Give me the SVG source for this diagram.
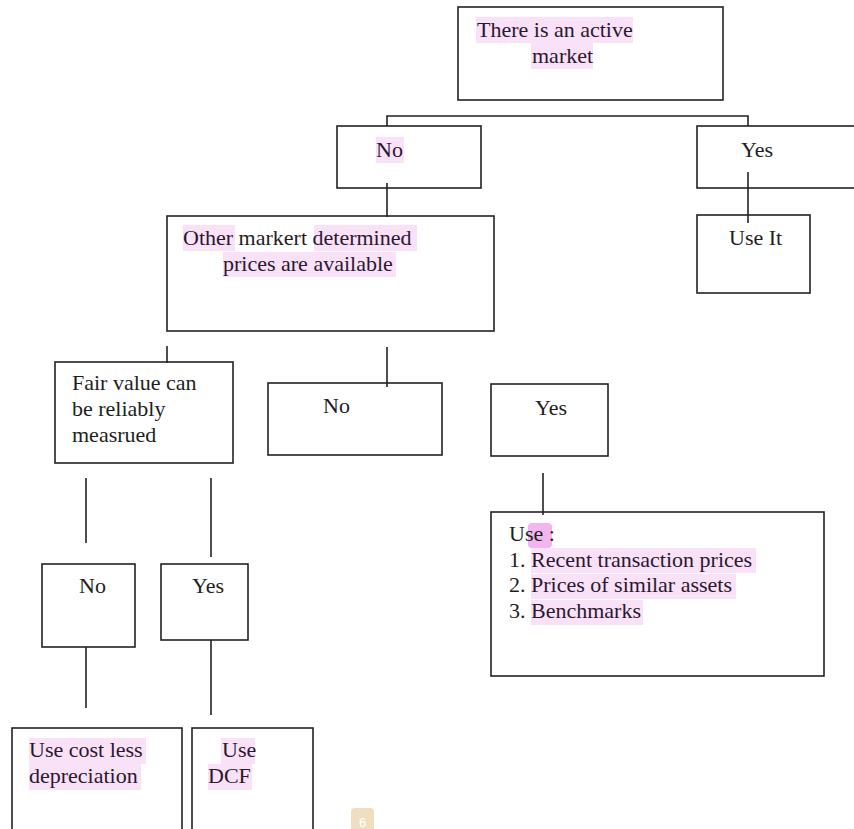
<svg xmlns="http://www.w3.org/2000/svg" width="854" height="829" viewBox="0 0 854 829">
<style>
.box{fill:none;stroke:#222;stroke-width:1.6}
.ln{fill:none;stroke:#222;stroke-width:1.6}
.hl{fill:#f9e1f7}
.hl2{fill:#f2b5ef}
text{font-family:"Liberation Serif","Times New Roman",serif;font-size:22px;fill:#1e1e1e}
.ht{fill:#2a1830}
</style>
<rect width="854" height="829" fill="#fff"/>
<g id="connectors">
<polyline class="ln" points="387,126 387,116 748,116 748,126"/>
<line class="ln" x1="748" y1="172" x2="748" y2="223"/>
<line class="ln" x1="387" y1="183" x2="387" y2="217"/>
<line class="ln" x1="167" y1="346" x2="167" y2="363"/>
<line class="ln" x1="387" y1="347" x2="387" y2="387"/>
<line class="ln" x1="543" y1="473" x2="543" y2="515"/>
<line class="ln" x1="86" y1="478" x2="86" y2="543"/>
<line class="ln" x1="211" y1="478" x2="211" y2="557"/>
<line class="ln" x1="86" y1="647" x2="86" y2="708"/>
<line class="ln" x1="211" y1="640" x2="211" y2="715"/>
</g>
<g id="n-active">
<rect class="box" x="458" y="7" width="265" height="93"/>
<rect class="hl" x="476" y="17" width="157" height="26"/>
<rect class="hl" x="531" y="43" width="62" height="26"/>
<text class="ht" x="477" y="37">There is an active</text>
<text class="ht" x="532" y="63">market</text>
</g>
<g id="n-no1">
<rect class="box" x="337" y="126" width="144" height="62"/>
<rect class="hl" x="376" y="137" width="28" height="26"/>
<text class="ht" x="376" y="157">No</text>
</g>
<g id="n-yes1">
<rect class="box" x="697" y="126" width="160" height="62"/>
<text x="741" y="157">Yes</text>
</g>
<g id="n-useit">
<rect class="box" x="697" y="215" width="113" height="78"/>
<text x="729" y="245">Use It</text>
</g>
<g id="n-other">
<rect class="box" x="167" y="216" width="327" height="115"/>
<rect class="hl" x="183" y="225" width="52" height="26"/>
<rect class="hl" x="314" y="225" width="103" height="26"/>
<rect class="hl" x="223" y="252" width="173" height="25"/>
<text x="183" y="245"><tspan class="ht">Other</tspan> markert <tspan class="ht">determined</tspan></text>
<text class="ht" x="223" y="271">prices are available</text>
</g>
<g id="n-fair">
<rect class="box" x="55" y="362" width="178" height="101"/>
<text x="72" y="390">Fair value can</text>
<text x="72" y="416">be reliably</text>
<text x="72" y="442">measrued</text>
</g>
<g id="n-no2">
<rect class="box" x="268" y="383" width="174" height="72"/>
<text x="323" y="413">No</text>
</g>
<g id="n-yes2">
<rect class="box" x="491" y="384" width="117" height="72"/>
<text x="535" y="415">Yes</text>
</g>
<g id="n-use">
<rect class="box" x="491" y="512" width="333" height="164"/>
<rect class="hl2" x="528" y="523" width="24" height="25" rx="4"/>
<rect class="hl" x="531" y="548" width="225" height="25"/>
<rect class="hl" x="531" y="574" width="205" height="25"/>
<rect class="hl" x="531" y="600" width="112" height="25"/>
<text x="509" y="541">Use :</text>
<text x="509" y="567">1. <tspan class="ht">Recent transaction prices</tspan></text>
<text x="509" y="592">2. <tspan class="ht">Prices of similar assets</tspan></text>
<text x="509" y="618">3. <tspan class="ht">Benchmarks</tspan></text>
</g>
<g id="n-no3">
<rect class="box" x="42" y="564" width="93" height="83"/>
<text x="79" y="593">No</text>
</g>
<g id="n-yes3">
<rect class="box" x="161" y="564" width="87" height="76"/>
<text x="192" y="593">Yes</text>
</g>
<g id="n-cost">
<rect class="box" x="12" y="728" width="170" height="110"/>
<rect class="hl" x="29" y="738" width="117" height="26"/>
<rect class="hl" x="29" y="764" width="112" height="26"/>
<text class="ht" x="29" y="757">Use cost less</text>
<text class="ht" x="29" y="783">depreciation</text>
</g>
<g id="n-dcf">
<rect class="box" x="192" y="728" width="121" height="110"/>
<rect class="hl" x="221" y="738" width="34" height="26"/>
<rect class="hl" x="208" y="764" width="44" height="26"/>
<text class="ht" x="222" y="757">Use</text>
<text class="ht" x="208" y="783">DCF</text>
</g>
<g id="page">
<rect x="351" y="808" width="23" height="30" rx="4" fill="#efdfc0"/>
<text x="362.5" y="827" text-anchor="middle" style="font-family:'Liberation Sans',Arial,sans-serif;font-size:13px;fill:#fff">6</text>
</g>
</svg>
